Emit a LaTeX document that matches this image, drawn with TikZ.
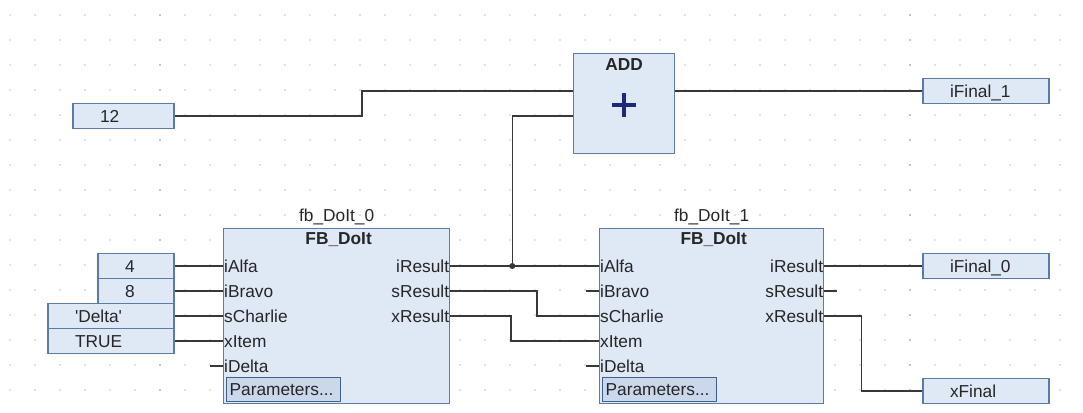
\documentclass[tikz,border=0pt]{standalone}
\usepackage{fontspec}
\setmainfont{Liberation Sans}
\usetikzlibrary{calc,positioning}

\definecolor{boxfill}{HTML}{DFE8F5}
\definecolor{boxline}{HTML}{5B7BA7}
\definecolor{parfill}{HTML}{CBD8EC}
\definecolor{parline}{HTML}{3F5F8E}
\definecolor{wirecol}{HTML}{383838}
\definecolor{txtcol}{HTML}{262626}
\definecolor{dotcol}{HTML}{C4C4C4}
\definecolor{pluscol}{HTML}{1B2A80}

\newcommand{\plcfont}{\fontsize{17.3}{20}\selectfont}

\tikzset{
  every node/.style={font=\plcfont, text=txtcol},
  wire/.style={draw=wirecol, line width=1.6pt},
  fbbox/.style={draw=boxline, fill=boxfill, line width=1.3pt, minimum width=#1, minimum height=175pt, inner sep=0pt, anchor=north west},
  varbox/.style={draw=boxline, fill=boxfill, line width=1.3pt, minimum height=25pt, text width=#1, inner xsep=27pt, inner ysep=0pt, align=left, text height=12.5pt, text depth=0pt},
  parbox/.style={draw=parline, fill=parfill, line width=1.2pt, minimum height=24pt, text width=108pt, inner xsep=3pt, inner ysep=0pt, align=left, text height=12.5pt, text depth=0pt, anchor=north west},
  pinin/.style={anchor=west, inner xsep=1pt, inner ysep=0pt, text height=12.5pt, text depth=0pt},
  pinout/.style={anchor=east, inner xsep=1pt, inner ysep=0pt, text height=12.5pt, text depth=0pt},
}

\begin{document}
\begin{tikzpicture}[x=1pt, y=-1pt]
        \fill[white] (0,0) rectangle (1083,412);
        \useasboundingbox (0,0) rectangle (1083,412);

        % editor grid
        \foreach \x in {10,35,...,1085}
            \foreach \y in {15,40,...,390}
                \fill[dotcol] (\x,\y) circle (0.9pt);
        \foreach \x in {160,910}
            \foreach \y in {15,40,...,390}
                \fill[gray!70] (\x,\y) circle (0.9pt);

        % ADD block
        \node[fbbox=101pt, minimum height=100pt] (add) at (573,53) {};
        \node[below=5pt of add.north, inner sep=0pt, font=\plcfont\bfseries] (addname) {ADD};
        \coordinate (add-in1) at ($(add.north west)+(0,38)$);
        \coordinate (add-in2) at ($(add.north west)+(0,63)$);
        \coordinate (add-out) at ($(add.north east)+(0,38)$);
        \coordinate (plus) at ($(add.north west)+(51,52)$);
        \draw[pluscol, line width=4pt] ($(plus)+(-12,0)$) -- ($(plus)+(12,0)$)
                                       ($(plus)+(0,-12)$) -- ($(plus)+(0,12)$);

        % function block instances
        \node[fbbox=226pt] (fb0) at (223,228) {};
        \node[fbbox=224pt] (fb1) at (599,228) {};
        \foreach \fb/\inst in {fb0/0,fb1/1} {
            \node[above=3pt of \fb.north, inner sep=0pt] (\fb-name) {fb\_DoIt\_\inst};
            \node[below=4.5pt of \fb.north, xshift=2pt, inner sep=0pt, font=\plcfont\bfseries] (\fb-type) {FB\_DoIt};
            \foreach \pin [count=\i] in {iAlfa,iBravo,sCharlie,xItem,iDelta}
                \node[pinin] (\fb-\pin) at ($(\fb.north west)+(0,13+25*\i)$) {\pin};
            \foreach \pin [count=\i] in {iResult,sResult,xResult}
                \node[pinout] (\fb-\pin) at ($(\fb.north east)+(0,13+25*\i)$) {\pin};
            \node[parbox] (\fb-par) at ($(\fb.north west)+(3,149)$) {Parameters...};
        }

        % constants and variables
        \node[varbox=47pt] (c12) at (123.5,116) {12};
        \node[varbox=22pt] (cFour) at (136,266) {4};
        \node[varbox=22pt] (cEight) at (136,291) {8};
        \node[varbox=72pt] (cDelta) at (111,316) {\textquotesingle Delta\textquotesingle};
        \node[varbox=72pt] (cTrue) at (111,341) {TRUE};
        \node[varbox=72pt] (iFinal1) at (986,91) {iFinal\_1};
        \node[varbox=72pt] (iFinal0) at (986,266) {iFinal\_0};
        \node[varbox=72pt] (xFinal) at (986,391) {xFinal};

        % wiring
        \draw[wire] (c12.east) -| ([xshift=-211pt]add-in1) -- (add-in1);
        \draw[wire] (add-out) -- (iFinal1.west);
        \draw[wire] (cFour.east) -- (fb0-iAlfa.west);
        \draw[wire] (cEight.east) -- (fb0-iBravo.west);
        \draw[wire] (cDelta.east) -- (fb0-sCharlie.west);
        \draw[wire] (cTrue.east) -- (fb0-xItem.west);
        \draw[wire] (fb0-iDelta.west) -- ++(-13,0);

        \draw[wire] (fb0-iResult.east) -- (fb1-iAlfa.west);
        \coordinate (junc) at ($(fb0-iResult.east)+(62,0)$);
        \draw[wire] (junc) |- (add-in2);
        \fill[wirecol] (junc) circle (3pt);
        \draw[wire] (fb0-sResult.east) -| ([xshift=-62pt]fb1-sCharlie.west) -- (fb1-sCharlie.west);
        \draw[wire] (fb0-xResult.east) -| ([xshift=-88pt]fb1-xItem.west) -- (fb1-xItem.west);
        \draw[wire] (fb1-iBravo.west) -- ++(-13,0);
        \draw[wire] (fb1-iDelta.west) -- ++(-13,0);

        \draw[wire] (fb1-iResult.east) -- (iFinal0.west);
        \draw[wire] (fb1-sResult.east) -- ++(13,0);
        \draw[wire] (fb1-xResult.east) -| ([xshift=-61pt]xFinal.west) -- (xFinal.west);
\end{tikzpicture}
\end{document}
